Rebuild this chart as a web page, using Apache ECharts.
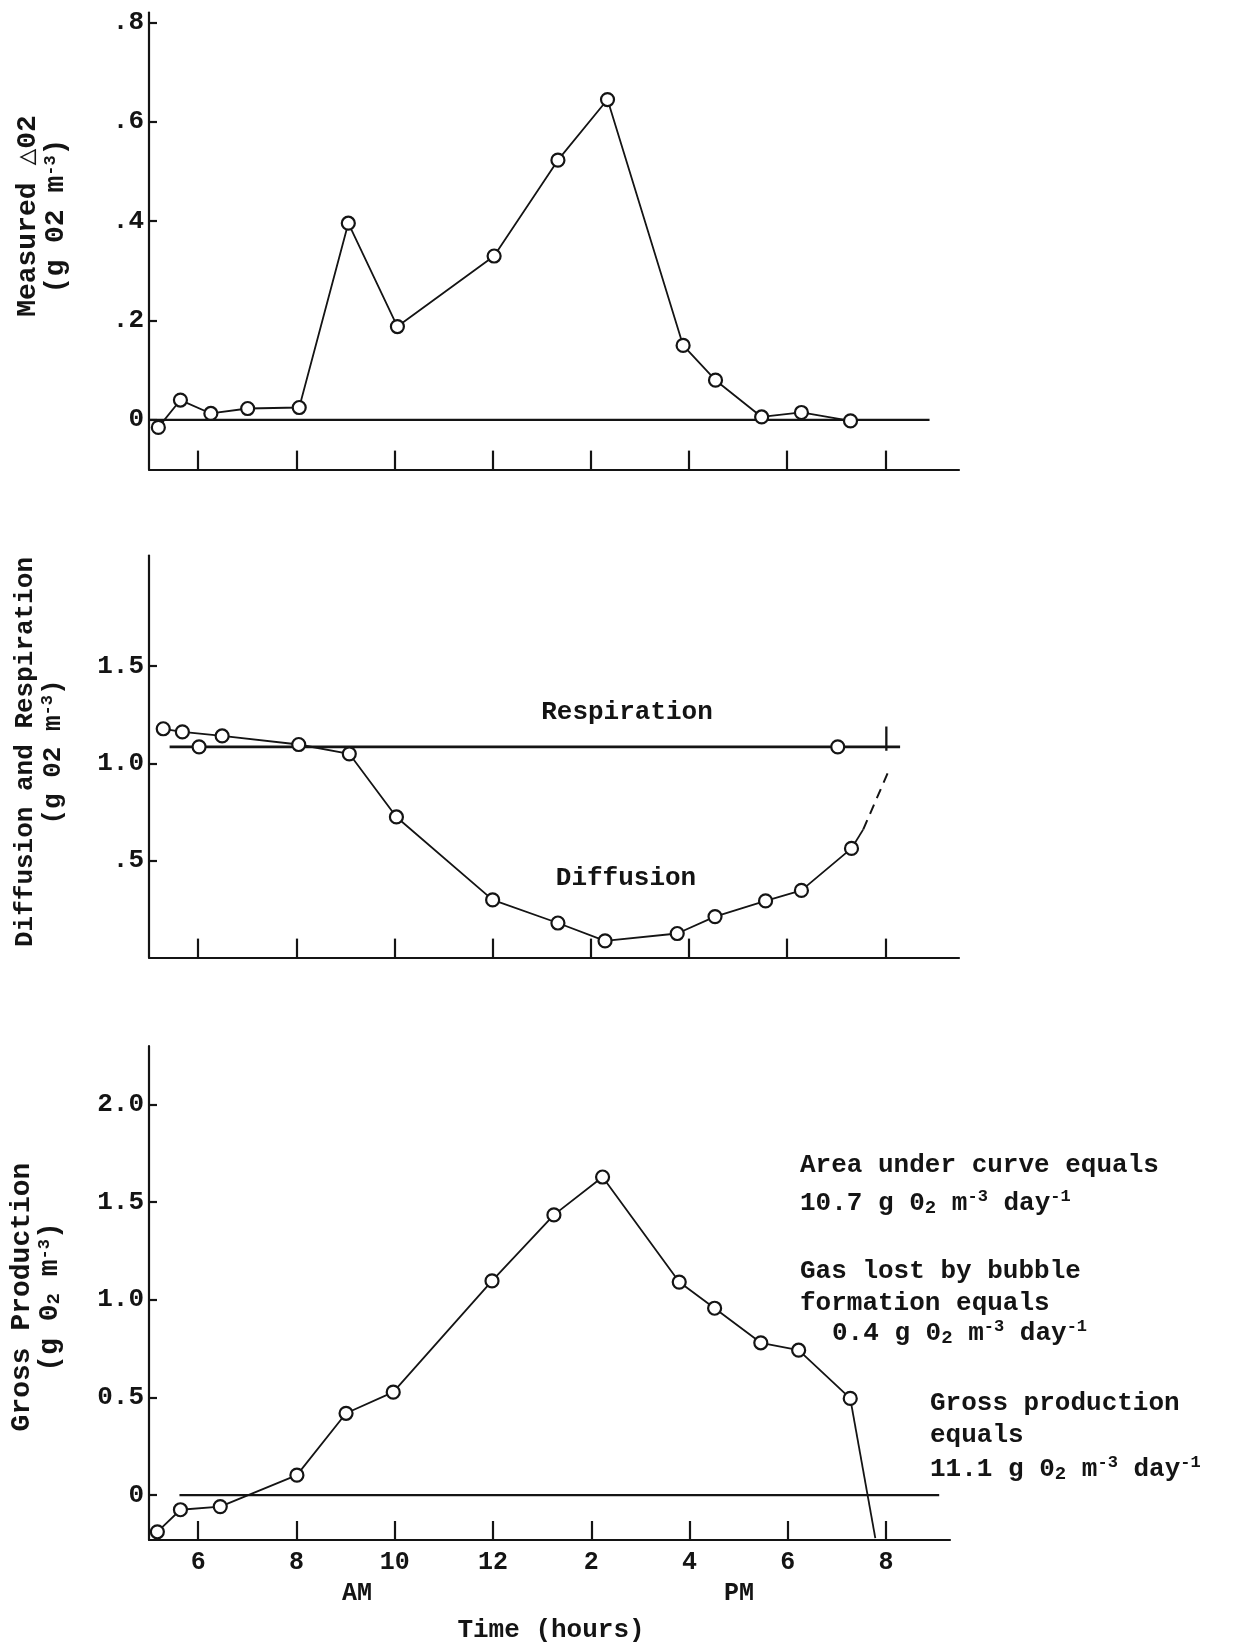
<!DOCTYPE html>
<html><head><meta charset="utf-8">
<script src="https://cdn.jsdelivr.net/npm/echarts@6/dist/echarts.min.js"></script>
<style>html,body{margin:0;padding:0;background:#fff}#c{width:1258px;height:1646px}</style>
</head><body><div id="c"></div>
<script>
// ---------- data ----------
const hourTicks = [6, 8, 10, 12, 14, 16, 18, 20];

// Panel 1: Measured delta O2
const measHours  = [5.19, 5.64, 6.26, 7.01, 8.06, 9.06, 10.06, 12.03, 13.33, 14.34, 15.88, 16.54, 17.48, 18.29, 19.29];
const measValues = [-0.015, 0.040, 0.013, 0.023, 0.025, 0.396, 0.188, 0.330, 0.523, 0.645, 0.150, 0.080, 0.006, 0.015, -0.002];
const measZeroHours = [5, 20.9];
const measYTicks = [0, 0.2, 0.4, 0.6, 0.8];

// Panel 2: Diffusion and Respiration
const diffHours  = [5.29, 5.68, 6.49, 8.05, 9.08, 10.04, 12.0, 13.33, 14.29, 15.76, 16.53, 17.56, 18.29, 19.31];
const diffValues = [1.178, 1.162, 1.141, 1.097, 1.049, 0.724, 0.297, 0.178, 0.086, 0.124, 0.211, 0.292, 0.346, 0.562];
const diffSolidEndHours  = [19.31, 19.55];
const diffSolidEndValues = [0.562, 0.66];
const diffDashHours  = [19.55, 20.06];
const diffDashValues = [0.66, 0.957];
const respLevel = 1.085;
const respLineHours = [5.42, 20.3];
const respPointHours = [6.02, 19.03];
const respMarkHours = [20.02, 20.02];
const respMarkValues = [1.065, 1.19];
const diffYTicks = [0.5, 1.0, 1.5];

// Panel 3: Gross production
const grossHours  = [5.17, 5.64, 6.45, 8.01, 9.01, 9.97, 11.98, 13.24, 14.23, 15.79, 16.51, 17.45, 18.22, 19.27];
const grossValues = [-0.188, -0.075, -0.059, 0.102, 0.419, 0.527, 1.097, 1.435, 1.629, 1.091, 0.957, 0.780, 0.742, 0.495];
const grossTailHours  = [19.27, 19.78];
const grossTailValues = [0.495, -0.22];
const grossZeroHours = [5.62, 21.08];
const grossYTicks = [0, 0.5, 1.0, 1.5, 2.0];

// ---------- styles ----------
const INK = '#141414';
const MONO = '"Liberation Mono", "DejaVu Sans Mono", monospace';
const zip = (xs, ys) => xs.map((x, i) => [x, ys[i]]);

function xAxis(gi, showLabels, max) {
  return {
    type: 'value', gridIndex: gi, min: 5, max: max,
    splitLine: { show: false },
    axisLine: { onZero: false, lineStyle: { color: INK, width: 2.2 } },
    axisTick: { show: true, inside: true, length: 19, customValues: hourTicks, lineStyle: { color: INK, width: 2.2 } },
    axisLabel: {
      show: showLabels, customValues: hourTicks, margin: 10,
      color: INK, fontFamily: MONO, fontWeight: 'bold', fontSize: 25,
      formatter: v => String(v > 12 ? v - 12 : v)
    }
  };
}
function yAxis(gi, min, max, ticks, fmt) {
  return {
    type: 'value', gridIndex: gi, min: min, max: max,
    splitLine: { show: false },
    axisLine: { show: true, onZero: false, lineStyle: { color: INK, width: 2.2 } },
    axisTick: { show: true, inside: true, length: 8, customValues: ticks, lineStyle: { color: INK, width: 2.2 } },
    axisLabel: {
      customValues: ticks, margin: 5, color: INK, fontFamily: MONO, fontWeight: 'bold', fontSize: 26,
      formatter: fmt
    }
  };
}
const lineBase = { type: 'line', animation: false, silent: true, lineStyle: { color: INK, width: 1.8 } };
function plain(xi, data, extra) {
  return Object.assign({}, lineBase, { xAxisIndex: xi, yAxisIndex: xi, data: data, symbol: 'none', z: 2 }, extra || {});
}
function marked(xi, data) {
  return Object.assign({}, lineBase, {
    xAxisIndex: xi, yAxisIndex: xi, data: data, symbol: 'circle', symbolSize: 13, z: 3,
    itemStyle: { color: '#fff', borderColor: INK, borderWidth: 2.2 }
  });
}
const thick = { lineStyle: { color: INK, width: 2.3 } };

const richDefs = {
  sup: { fontFamily: MONO, fontWeight: 'bold', fontSize: 17, verticalAlign: 'top', lineHeight: 17, fill: INK },
  sub: { fontFamily: MONO, fontWeight: 'bold', fontSize: 19, verticalAlign: 'bottom', lineHeight: 19, fill: INK }
};
function txt(text, x, y, size, align, extra) {
  return Object.assign({
    type: 'text', x: x, y: y, silent: true,
    style: {
      text: text, fill: INK, fontFamily: MONO, fontWeight: 'bold', fontSize: size,
      textAlign: align || 'left', textVerticalAlign: 'middle', lineHeight: 30, rich: richDefs
    }
  }, extra || {});
}
function vtitle(text, x, y, size) {
  const t = txt(text, x, y, size, 'center', { rotation: Math.PI / 2 });
  t.style.lineHeight = 28;
  return t;
}

const option = {
  backgroundColor: '#fff',
  animation: false,
  grid: [
    { left: 149, right: 299, top: 12.6, height: 457 },
    { left: 149, right: 299, top: 555.5, height: 402.1 },
    { left: 149, right: 308, top: 1046, height: 494 }
  ],
  xAxis: [xAxis(0, false, 21.5), xAxis(1, false, 21.5), xAxis(2, true, 21.3)],
  yAxis: [
    yAxis(0, -0.1, 0.82, measYTicks, v => v === 0 ? '0' : '.' + Math.round(v * 10)),
    yAxis(1, 0, 2.07, diffYTicks, v => v < 1 ? '.5' : v.toFixed(1)),
    yAxis(2, -0.23, 2.3, grossYTicks, v => v === 0 ? '0' : v.toFixed(1))
  ],
  series: [
    plain(0, measZeroHours.map(h => [h, 0]), thick),
    marked(0, zip(measHours, measValues)),
    plain(1, respLineHours.map(h => [h, respLevel]), { lineStyle: { color: INK, width: 2.6 } }),
    Object.assign(marked(1, respPointHours.map(h => [h, respLevel])), { lineStyle: { width: 0 } }),
    plain(1, zip(respMarkHours, respMarkValues), thick),
    marked(1, zip(diffHours, diffValues)),
    plain(1, zip(diffSolidEndHours, diffSolidEndValues)),
    plain(1, zip(diffDashHours, diffDashValues), { lineStyle: { color: INK, width: 2, type: [10, 7] } }),
    plain(2, grossZeroHours.map(h => [h, 0]), thick),
    plain(2, zip(grossTailHours, grossTailValues)),
    marked(2, zip(grossHours, grossValues))
  ],
  graphic: [
    vtitle('Measured \u25B302\n(g 02 m{sup|-3})', 42, 216, 28),
    vtitle('Diffusion and Respiration\n(g 02 m{sup|-3})', 39, 752, 26),
    vtitle('Gross Production\n(g 0{sub|2} m{sup|-3})', 36, 1297, 28),
    txt('Respiration', 627, 712, 26, 'center'),
    txt('Diffusion', 626, 878, 26, 'center'),
    txt('Area under curve equals', 800, 1165, 26),
    txt('10.7 g 0{sub|2} m{sup|-3} day{sup|-1}', 800, 1203, 26),
    txt('Gas lost by bubble', 800, 1271, 26),
    txt('formation equals', 800, 1303, 26),
    txt('0.4 g 0{sub|2} m{sup|-3} day{sup|-1}', 832, 1333, 26),
    txt('Gross production', 930, 1403, 26),
    txt('equals', 930, 1435, 26),
    txt('11.1 g 0{sub|2} m{sup|-3} day{sup|-1}', 930, 1469, 26),
    txt('AM', 357, 1594, 25, 'center'),
    txt('PM', 739, 1594, 25, 'center'),
    txt('Time (hours)', 551, 1630, 26, 'center')
  ]
};
const chart = echarts.init(document.getElementById('c'), null, { renderer: 'canvas' });
chart.setOption(option);
</script>
</body></html>
